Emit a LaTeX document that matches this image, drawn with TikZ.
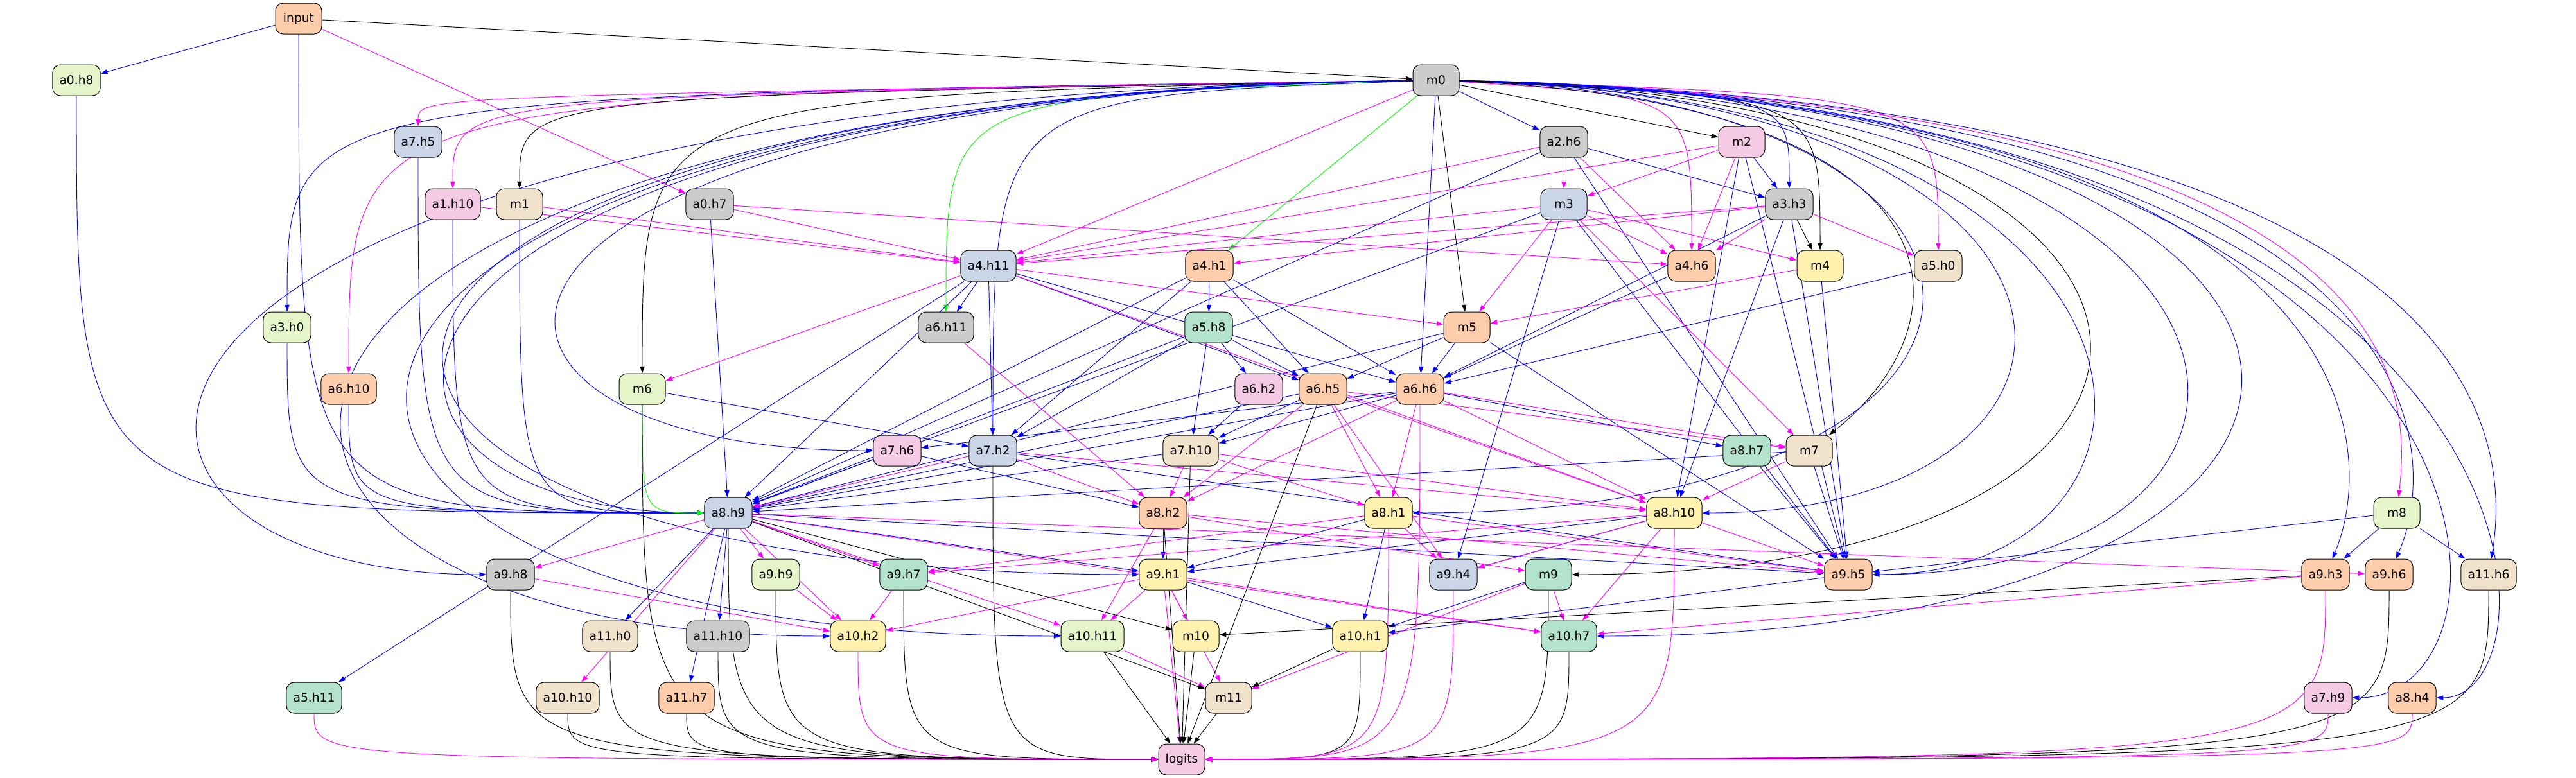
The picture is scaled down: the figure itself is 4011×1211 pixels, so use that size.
\documentclass[tikz,border=0pt]{standalone}
\usepackage{fontspec}
\setmainfont{DejaVu Sans}
\usetikzlibrary{arrows.meta,backgrounds}

\definecolor{pmint}{HTML}{B3E2CD}
\definecolor{ppeach}{HTML}{FDCDAC}
\definecolor{psteel}{HTML}{CBD5E8}
\definecolor{ppink}{HTML}{F4CAE4}
\definecolor{plime}{HTML}{E6F5C9}
\definecolor{plemon}{HTML}{FFF2AE}
\definecolor{psand}{HTML}{F1E2CC}
\definecolor{pgrey}{HTML}{CCCCCC}
\definecolor{qblue}{RGB}{0,0,255}
\definecolor{kmagenta}{RGB}{255,0,255}
\definecolor{vgreen}{RGB}{0,255,0}

\begin{document}
\begin{tikzpicture}[
    x=0.75pt, y=-0.75pt,
    box/.style={rectangle, draw=black, line width=0.75pt, rounded corners=9pt, minimum width=54pt, minimum height=36pt, inner xsep=8pt, font=\fontsize{14pt}{17pt}\selectfont},
    mintbox/.style={box, fill=pmint},
    peachbox/.style={box, fill=ppeach},
    steelbox/.style={box, fill=psteel},
    pinkbox/.style={box, fill=ppink},
    limebox/.style={box, fill=plime},
    lemonbox/.style={box, fill=plemon},
    sandbox/.style={box, fill=psand},
    greybox/.style={box, fill=pgrey},
    arrow/.style={-{Triangle[length=8pt, width=5.5pt]}, line width=0.7pt},
    qarrow/.style={arrow, color=qblue},
    karrow/.style={arrow, color=kmagenta},
    varrow/.style={arrow, color=vgreen},
    oarrow/.style={arrow, color=black}
]
    \useasboundingbox (0,0) rectangle (4011,1211);

    % Nodes
    \node[peachbox] (input) at (465,29) {input};
    \node[limebox] (a0h8) at (119,125) {a0.h8};
    \node[greybox] (m0) at (2236,125) {m0};
    \node[steelbox] (a7h5) at (651,221) {a7.h5};
    \node[greybox] (a2h6) at (2435,221) {a2.h6};
    \node[pinkbox] (m2) at (2712,221) {m2};
    \node[pinkbox] (a1h10) at (705,318) {a1.h10};
    \node[sandbox] (m1) at (809,318) {m1};
    \node[greybox] (a0h7) at (1105,318) {a0.h7};
    \node[steelbox] (m3) at (2435,318) {m3};
    \node[greybox] (a3h3) at (2786,318) {a3.h3};
    \node[steelbox] (a4h11) at (1539,414) {a4.h11};
    \node[peachbox] (a4h1) at (1883,414) {a4.h1};
    \node[peachbox] (a4h6) at (2634,414) {a4.h6};
    \node[lemonbox] (m4) at (2834,414) {m4};
    \node[sandbox] (a5h0) at (3018,414) {a5.h0};
    \node[limebox] (a3h0) at (447,510) {a3.h0};
    \node[greybox] (a6h11) at (1473,510) {a6.h11};
    \node[mintbox] (a5h8) at (1882,510) {a5.h8};
    \node[peachbox] (m5) at (2284,510) {m5};
    \node[peachbox] (a6h10) at (543,606) {a6.h10};
    \node[limebox] (m6) at (1000,606) {m6};
    \node[pinkbox] (a6h2) at (1960,606) {a6.h2};
    \node[peachbox] (a6h5) at (2060,606) {a6.h5};
    \node[peachbox] (a6h6) at (2211,606) {a6.h6};
    \node[pinkbox] (a7h6) at (1397,702) {a7.h6};
    \node[steelbox] (a7h2) at (1546,702) {a7.h2};
    \node[sandbox] (a7h10) at (1854,702) {a7.h10};
    \node[mintbox] (a8h7) at (2720,702) {a8.h7};
    \node[sandbox] (m7) at (2817,702) {m7};
    \node[steelbox] (a8h9) at (1134,799) {a8.h9};
    \node[peachbox] (a8h2) at (1811,799) {a8.h2};
    \node[lemonbox] (a8h1) at (2162,799) {a8.h1};
    \node[lemonbox] (a8h10) at (2607,799) {a8.h10};
    \node[limebox] (m8) at (3732,799) {m8};
    \node[greybox] (a9h8) at (795,895) {a9.h8};
    \node[limebox] (a9h9) at (1208,895) {a9.h9};
    \node[mintbox] (a9h7) at (1407,895) {a9.h7};
    \node[lemonbox] (a9h1) at (1811,895) {a9.h1};
    \node[steelbox] (a9h4) at (2263,895) {a9.h4};
    \node[mintbox] (m9) at (2411,895) {m9};
    \node[peachbox] (a9h5) at (2878,895) {a9.h5};
    \node[peachbox] (a9h3) at (3621,895) {a9.h3};
    \node[peachbox] (a9h6) at (3720,895) {a9.h6};
    \node[sandbox] (a11h6) at (3875,895) {a11.h6};
    \node[sandbox] (a11h0) at (950,991) {a11.h0};
    \node[greybox] (a11h10) at (1118,991) {a11.h10};
    \node[lemonbox] (a10h2) at (1336,991) {a10.h2};
    \node[limebox] (a10h11) at (1701,991) {a10.h11};
    \node[lemonbox] (m10) at (1862,991) {m10};
    \node[lemonbox] (a10h1) at (2118,991) {a10.h1};
    \node[mintbox] (a10h7) at (2443,991) {a10.h7};
    \node[mintbox] (a5h11) at (489,1087) {a5.h11};
    \node[sandbox] (a10h10) at (884,1087) {a10.h10};
    \node[peachbox] (a11h7) at (1069,1087) {a11.h7};
    \node[sandbox] (m11) at (1913,1087) {m11};
    \node[pinkbox] (a7h9) at (3625,1087) {a7.h9};
    \node[peachbox] (a8h4) at (3756,1087) {a8.h4};
    \node[pinkbox] (logits) at (1840,1183) {logits};

    \begin{scope}[on background layer]
    % Arrows from m0
    \draw[oarrow] (input) -- (m0);
    \draw[qarrow] (m0) -- (a2h6);
    \draw[qarrow] (m0) -- (a6h6);
    \draw[karrow] (m0) -- (a4h11);
    \draw[varrow] (m0) -- (a4h1);
    \draw[oarrow] (m0) -- (m2);
    \draw[oarrow] (m0) -- (m5);
    \draw[varrow] (m0) .. controls (a6h11 |- 0,150) .. (a6h11);
    \foreach \dst in {a3h0, a7h2, a3h3}
        \draw[qarrow] (m0) .. controls (\dst |- 0,150) .. (\dst);
    \foreach \dst in {a7h5, a1h10, a6h10, a4h6, a5h0}
        \draw[karrow] (m0) .. controls (\dst |- 0,150) .. (\dst);
    \foreach \dst in {m1, m6, m4}
        \draw[oarrow] (m0) .. controls (\dst |- 0,150) .. (\dst);
    \foreach \dst/\lane/\ty in {a9h3/3704/700, a9h6/3805/700, a11h6/3907/700}
        \draw[qarrow] (m0) .. controls (\lane,160) and (\lane,\ty) .. (\dst);
    \draw[karrow] (m0) .. controls (3754,160) and (3754,600) .. (m8);
    \draw[oarrow] (m0) .. controls (3073,160) and (3073,500) .. (m7);
    \foreach \dst/\lane in {a9h8/10, a10h2/160, a10h11/215, a9h1/265, a8h9/440, a7h6/600, a8h1/3245, a8h10/3350, a9h5/3450, a9h5/3650, a10h7/3857, a7h9/3959, a8h4/4002}
        \draw[qarrow] (m0) .. controls (\lane,150) and (\lane,0 |- \dst) .. (\dst);
    \draw[oarrow] (m0) .. controls (3550,150) and (3550,895) .. (m9);

    % Arrows into a8.h9 from the left
    \foreach \src in {input, a0h8, a7h5, a1h10, m1, a3h0, a6h10}
        \draw[qarrow] (\src) .. controls (\src |- a8h9) .. (a8h9);
    \draw[varrow] (m6) .. controls (m6 |- a8h9) .. (a8h9);

    % Blue arrows
    \foreach \src/\dst in {input/a0h8, a0h7/a8h9, a2h6/a3h3, m2/a3h3, a2h6/a8h9, m3/a8h9, a2h6/a9h5, m2/a9h5, m2/a8h10, m3/a9h5, m3/a9h4, a3h3/a9h5, a3h3/a8h10, a3h3/a6h6, m4/a9h5,
        a4h11/a6h11, a4h11/a6h5, a4h11/a6h6, a4h11/a7h2, a4h11/a8h9, a4h11/a5h11, a4h1/a5h8, a4h1/a6h5, a4h1/a6h6, a4h1/a7h2, a4h1/a8h9, a4h6/a6h6, a5h0/a6h6,
        a5h8/a6h2, a5h8/a6h5, a5h8/a7h10, a5h8/a7h2, a5h8/a8h9, m5/a6h5, m5/a6h6, m5/a8h9, m5/a9h5, a6h2/a7h10, a6h5/a7h10, a6h6/a7h10, a6h6/a7h6, a6h6/a8h7,
        a6h5/a8h9, a6h6/a8h9, m6/a7h2, a7h6/a8h2, a7h6/a8h9, a7h2/a9h5, a7h10/a8h9, a8h7/a9h5, m7/a9h5, m7/a8h9, a8h10/a9h1, a8h10/a9h4, a8h1/a9h1, a8h1/a10h1,
        a8h2/a9h1, a8h9/a9h1, a8h9/a11h0, a8h9/a11h10, a8h9/a11h7, a8h9/a9h5, a9h1/a10h1, m9/a10h1, a9h5/a10h1, m8/a9h3, m8/a11h6, m8/a9h5}
        \draw[qarrow] (\src) -- (\dst);

    % Magenta arrows
    \foreach \src/\dst in {input/a0h7, a2h6/m3, m2/m3, a2h6/a4h11, m2/a4h11, m3/a4h11, a3h3/a4h11, a0h7/a4h11, m1/a4h11, a1h10/a4h11, a2h6/a4h6, m2/a4h6, m3/a4h6,
        a3h3/a4h6, a0h7/a4h6, a3h3/a4h1, m3/m4, a3h3/a5h0, m3/m5, a4h11/m5, m4/m5, a4h11/m6, a4h11/a8h10, a6h11/a8h2, a6h5/a8h2, a7h10/a8h2, a7h2/a8h2, a6h6/a8h2,
        a7h2/a8h9, a6h5/a8h1, a6h6/a8h1, a7h10/a8h1, a6h5/a8h10, a6h6/a8h10, a7h10/a8h10, a7h2/a8h10, m7/a8h10, a6h5/m7, a6h6/m7, m3/m7, a6h5/a9h4, a8h1/a9h4,
        a8h10/a9h4, a8h9/a9h8, a8h9/a9h9, a8h9/a9h7, a8h9/a10h2, a8h9/a10h10, a8h9/a10h11, a8h9/a10h7, a8h9/a9h6, a8h2/a9h5, a8h1/a9h5, a8h10/a9h5, a8h1/a9h7,
        a8h10/a9h7, a8h2/a10h11, a8h2/m9, a9h9/a10h2, a9h7/a10h2, a9h8/a10h2, a9h1/a10h2, a9h1/a10h11, a9h1/m10, a9h1/m11, a9h1/a10h7, m9/a10h7, m9/m11,
        a8h10/a10h7, a9h3/a10h7, a10h11/m11, a9h1/logits}
        \draw[karrow] (\src) -- (\dst);

    % Black arrows
    \foreach \src/\dst in {a3h3/m4, a8h9/m10, a8h9/m11, a9h3/m10, a10h1/m11, a8h2/logits, a7h10/logits, a6h5/logits, a10h11/logits, m10/logits, m11/logits}
        \draw[oarrow] (\src) -- (\dst);

    % Arrows into logits from the sides
    \foreach \src in {a9h8, a11h0, a10h10, a11h7, a11h10, m6, a8h9, a9h9, a9h7, a7h2, a10h7, m9, a9h6, a11h6, a10h1}
        \draw[oarrow] (\src) .. controls (\src |- logits) .. (logits);
    \foreach \src in {a5h11, a10h2, a9h4, a8h10, a9h3, a7h9, a8h4, a6h6, a8h1}
        \draw[karrow] (\src) .. controls (\src |- logits) .. (logits);
    \end{scope}

\end{tikzpicture}
\end{document}
